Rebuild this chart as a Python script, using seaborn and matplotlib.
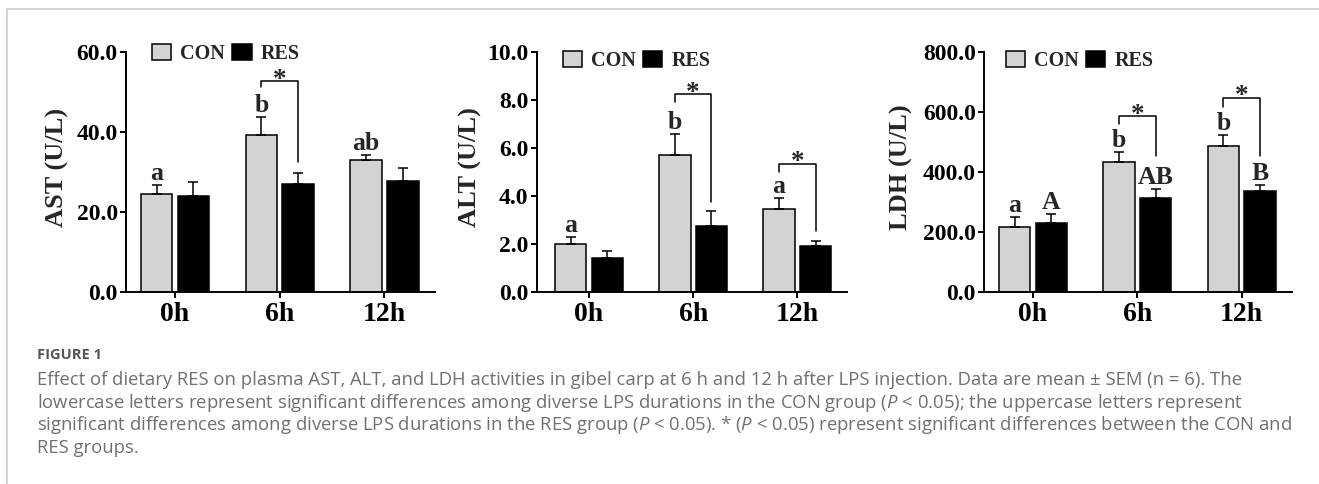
import numpy as np
import pandas as pd
import seaborn as sns
import matplotlib
matplotlib.use("Agg")
from matplotlib import pyplot as plt
from matplotlib.patches import Patch
from matplotlib.lines import Line2D

# values (mean, SEM)
times = ['0h', '6h', '12h']
groups = ['CON', 'RES']

ast_con = [24.6, 39.3, 33.1]
ast_con_sem = [2.2, 4.5, 1.3]
ast_res = [24.1, 27.1, 27.8]
ast_res_sem = [3.5, 2.7, 3.3]

alt_con = [1.99, 5.72, 3.47]
alt_con_sem = [0.32, 0.88, 0.45]
alt_res = [1.40, 2.74, 1.93]
alt_res_sem = [0.32, 0.66, 0.21]

ldh_con = [218, 433, 488]
ldh_con_sem = [32, 33, 35]
ldh_res = [231, 315, 337]
ldh_res_sem = [28, 28, 21]

ast_letters_con = ['a', 'b', 'ab']
ast_letters_res = ['', '', '']
alt_letters_con = ['a', 'b', 'a']
alt_letters_res = ['', '', '']
ldh_letters_con = ['a', 'b', 'b']
ldh_letters_res = ['A', 'AB', 'B']

# significance brackets: (time index, top, left leg end, right leg end)
ast_brackets = [(1, 52.7, 51.2, 32.5)]
alt_brackets = [(1, 8.24, 7.93, 3.76), (2, 5.35, 5.01, 2.54)]
ldh_brackets = [(1, 587, 562, 455), (2, 649, 616, 455)]

ylabels = ['AST (U/L)', 'ALT (U/L)', 'LDH (U/L)']
ymax = [60, 10, 800]
ystep = [20, 2, 200]

caption_lines = [
    "Effect of dietary RES on plasma AST, ALT, and LDH activities in gibel carp at 6 h and 12 h after LPS injection. Data are mean \u00b1 SEM (n = 6). The",
    "lowercase letters represent significant differences among diverse LPS durations in the CON group ($P$ < 0.05); the uppercase letters represent",
    "significant differences among diverse LPS durations in the RES group ($P$ < 0.05). * ($P$ < 0.05) represent significant differences between the CON and",
    "RES groups.",
]

sns.set_style("ticks")
plt.rcParams['font.family'] = ['Liberation Serif', 'DejaVu Serif']
plt.rcParams['font.weight'] = 'bold'
plt.rcParams['mathtext.fontset'] = 'custom'
plt.rcParams['mathtext.rm'] = 'Open Sans:weight=normal'
plt.rcParams['mathtext.it'] = 'Open Sans:style=italic:weight=normal'

W, H = 1319, 484
fig = plt.figure(figsize=(W / 100, H / 100), dpi=100)

con_color = '#d3d3d3'
res_color = '#000000'

# layout in pixels: (axes left, axes right, xlim, legend x, legend y, ylabel x)
panels = [
    (126, 435, (-0.468, 2.483), 0.085, 1.035, -0.185),
    (536.7, 847, (-0.502, 2.477), 0.085, 1.005, -0.175),
    (984.3, 1291.7, (-0.467, 2.479), 0.071, 1.005, -0.233),
]
ax_bottom, ax_top = 292, 52.3

data = [
    (ast_con, ast_con_sem, ast_res, ast_res_sem, ast_letters_con, ast_letters_res, ast_brackets),
    (alt_con, alt_con_sem, alt_res, alt_res_sem, alt_letters_con, alt_letters_res, alt_brackets),
    (ldh_con, ldh_con_sem, ldh_res, ldh_res_sem, ldh_letters_con, ldh_letters_res, ldh_brackets),
]

for i, (con, con_sem, res, res_sem, let_con, let_res, brackets) in enumerate(data):
    left, right, xlim, lx, ly, ylx = panels[i]
    ax = fig.add_axes([left / W, (H - ax_bottom) / H, (right - left) / W, (ax_bottom - ax_top) / H])

    df = pd.DataFrame({
        'time': times * 2,
        'group': ['CON'] * 3 + ['RES'] * 3,
        'value': list(con) + list(res),
    })
    sns.barplot(data=df, x='time', y='value', hue='group', order=times, hue_order=groups,
                palette={'CON': con_color, 'RES': res_color}, edgecolor='black', linewidth=1.1,
                width=0.7, gap=0.14, errorbar=None, legend=False, ax=ax, zorder=2)

    sems = [con_sem, res_sem]
    letters = [let_con, let_res]
    centers = [[], []]
    for g, cont in enumerate(ax.containers[:2]):
        for j, bar in enumerate(cont):
            xc = bar.get_x() + bar.get_width() / 2
            h = bar.get_height()
            centers[g].append(xc)
            ax.errorbar(xc, h, yerr=[[0], [sems[g][j]]], fmt='none', ecolor='black',
                        elinewidth=1.1, capsize=3.5, capthick=1.1, zorder=3)
            if letters[g][j]:
                ax.annotate(letters[g][j], xy=(xc, h + sems[g][j]), xytext=(0, 0),
                            textcoords='offset points', ha='center', va='bottom',
                            fontsize=18.5, fontweight='bold', annotation_clip=False)

    for (j, top, lbot, rbot) in brackets:
        x0, x1 = centers[0][j], centers[1][j]
        ax.plot([x0, x0, x1, x1], [lbot, top, top, rbot], color='black', lw=1.1,
                clip_on=False, zorder=4)
        ax.annotate('*', xy=((x0 + x1) / 2, top), xytext=(0, -4), textcoords='offset points',
                    ha='center', va='baseline', fontsize=19.5, fontweight='bold',
                    annotation_clip=False)

    ax.set_xlim(*xlim)
    ax.set_ylim(0, ymax[i])
    ax.set_yticks(np.arange(0, ymax[i] + ystep[i] / 2, ystep[i]))
    ax.yaxis.set_major_formatter(matplotlib.ticker.FormatStrFormatter('%.1f'))
    ax.set_xlabel('')
    ax.set_ylabel(ylabels[i], fontsize=19, fontweight='bold')
    ax.yaxis.set_label_coords(ylx, 0.52)
    for s in ['top', 'right']:
        ax.spines[s].set_visible(False)
    for s in ['left', 'bottom']:
        ax.spines[s].set_linewidth(1.4)
        ax.spines[s].set_color('black')
    ax.tick_params(axis='y', direction='out', length=4, width=1.4, pad=2, labelsize=17, colors='black')
    ax.tick_params(axis='x', direction='out', length=4, width=1.4, pad=3, labelsize=20, colors='black')
    for lab in ax.get_xticklabels() + ax.get_yticklabels():
        lab.set_fontweight('bold')

    handles = [Patch(facecolor=con_color, edgecolor='black', linewidth=1.1, label='CON'),
               Patch(facecolor=res_color, edgecolor='black', linewidth=1.1, label='RES')]
    ax.legend(handles=handles, ncol=2, frameon=False, loc='upper left', bbox_to_anchor=(lx, ly),
              handlelength=0.95, handleheight=0.85, handletextpad=0.45, columnspacing=0.35,
              borderaxespad=0, borderpad=0,
              prop={'family': 'Liberation Serif', 'weight': 'bold', 'size': 14.5})

# page frame lines
fig.add_artist(Line2D([7 / W, 1], [1 - 9 / H, 1 - 9 / H], color='#c8c8c8', lw=1.1))
fig.add_artist(Line2D([7 / W, 7 / W], [0, 1 - 9 / H], color='#c8c8c8', lw=1.1))

# caption
fig.text(37 / W, 1 - 359 / H, 'FIGURE 1', family='Open Sans', fontweight='bold',
         fontsize=10.5, color='#555555', va='baseline', ha='left')
cap_texts = []
for k, line in enumerate(caption_lines):
    t = fig.text(37 / W, 1 - (385 + 22.7 * k) / H, line, family='Open Sans', fontweight='normal',
                 fontsize=12, color='#707070', va='baseline', ha='left')
    cap_texts.append(t)
renderer = fig.canvas.get_renderer()
w0 = cap_texts[0].get_window_extent(renderer).width
scale = (1242 - 37) / w0
for t in cap_texts:
    t.set_fontsize(12 * scale)

fig.savefig('out.png', dpi=100)
